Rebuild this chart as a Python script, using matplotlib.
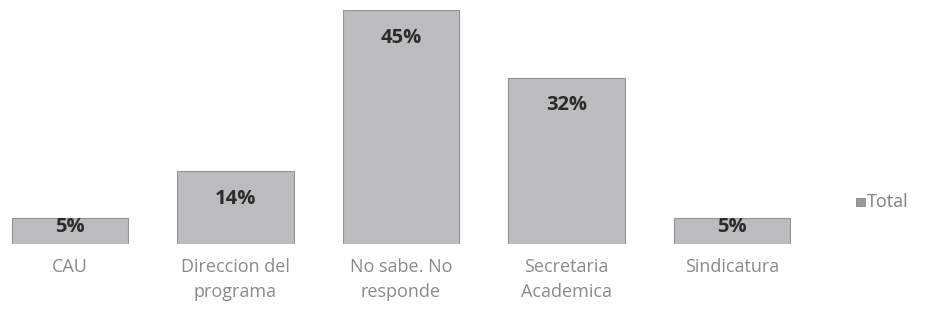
import matplotlib.pyplot as plt
import numpy as np

categorias = ['CAU', 'Direccion del\nprograma', 'No sabe. No\nresponde',
              'Secretaria\nAcademica', 'Sindicatura']
valores = [5, 14, 45, 32, 5]
etiquetas = ['5%', '14%', '45%', '32%', '5%']

plt.rcParams['font.family'] = ['Open Sans', 'DejaVu Sans']

fig = plt.figure(figsize=(9.25, 3.14), dpi=100)
# axes: baseline at 70px from bottom, 45% at 304px
ax = fig.add_axes([0, 70 / 314, 1, 234 / 314])

x = np.arange(len(categorias))
ax.bar(x, valores, width=0.705, color='#bcbcbf', edgecolor='#949497', linewidth=0.8)

# fit bar centres to pixel positions (70 .. 732)
paso = 165.5
ax.set_xlim(-70 / paso, (925 - 70) / paso)
ax.set_ylim(0, 45)

for xi, v, t in zip(x, valores, etiquetas):
    y = max(v - 5.3, 3.3)
    ax.text(xi, y, t, ha='center', va='center', fontsize=14.5,
            fontweight='bold', color='#2b2b2b')

for xi, c in zip(x, categorias):
    ax.text(xi, -2.6, c, ha='center', va='top', fontsize=13,
            color='#8a8a8a', linespacing=1.55)

# legend
fig.patches.append(plt.Rectangle((856 / 925, (314 - 206) / 314), 9 / 925, 8 / 314,
                                 transform=fig.transFigure, facecolor='#9a9a9a',
                                 edgecolor='#777777', linewidth=0.5))
fig.text(867 / 925, (314 - 202) / 314, 'Total', ha='left', va='center',
         fontsize=13, color='#808080')

ax.axis('off')
fig.savefig('out.png', dpi=100, facecolor='white')
